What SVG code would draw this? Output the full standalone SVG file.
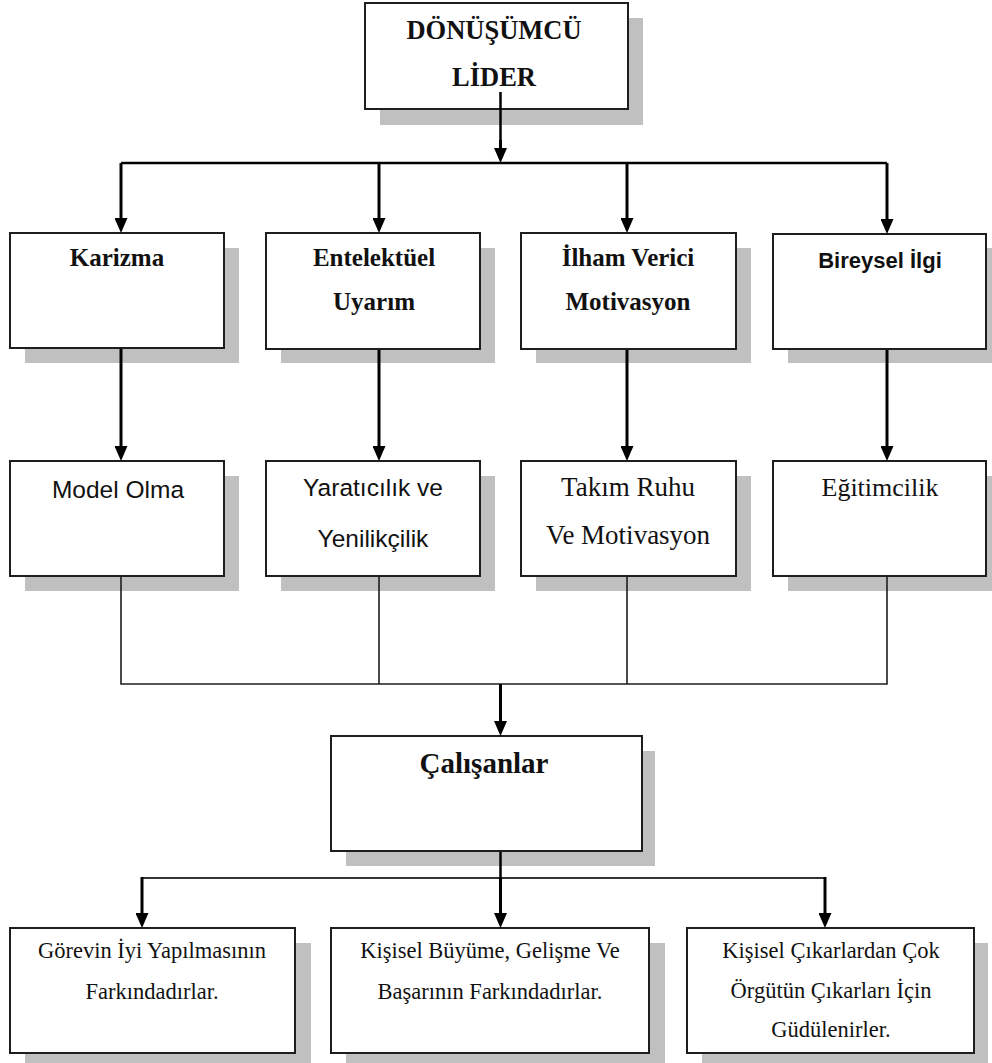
<svg xmlns="http://www.w3.org/2000/svg" width="992" height="1063" viewBox="0 0 992 1063">
  <style>
    .box { fill: #ffffff; stroke: #1e1e1e; stroke-width: 2; }
    .shadow { fill: #c0c0c0; stroke: none; }
    .serif { font-family: "Liberation Serif", "Times New Roman", serif; fill: #111; text-anchor: middle; }
    .sans { font-family: "Liberation Sans", Arial, sans-serif; fill: #111; text-anchor: middle; }
    .b { font-weight: bold; }
    .arrow { stroke: #000; stroke-width: 3; fill: none; marker-end: url(#ah); }
    .thick { stroke: #000; stroke-width: 2.5; fill: none; }
    .thin { stroke: #1e1e1e; stroke-width: 1.6; fill: none; }
  </style>
  <defs>
    <marker id="ah" viewBox="0 0 15 13" refX="7" refY="6.5" markerWidth="15" markerHeight="13" markerUnits="userSpaceOnUse" orient="auto">
      <path d="M0,0 L15,6.5 L0,13 z" fill="#000"/>
    </marker>
  </defs>
  <rect width="992" height="1063" fill="#ffffff"/>

  <g id="node-lider">
    <rect class="shadow" x="380" y="18" width="263" height="107"/>
    <rect class="box" x="365" y="3" width="263" height="106"/>
    <text class="serif b" x="494" y="39" font-size="26.5">DÖNÜŞÜMCÜ</text>
    <text class="serif b" x="494" y="86" font-size="26.5">LİDER</text>
  </g>

  <g id="node-karizma">
    <rect class="shadow" x="25" y="248" width="214" height="115"/>
    <rect class="box" x="10" y="233" width="214" height="115"/>
    <text class="serif b" x="117" y="266" font-size="25">Karizma</text>
  </g>
  <g id="node-entelektuel">
    <rect class="shadow" x="281" y="248" width="214" height="115"/>
    <rect class="box" x="266" y="233" width="214" height="116"/>
    <text class="serif b" x="374" y="266" font-size="25">Entelektüel</text>
    <text class="serif b" x="374" y="310" font-size="25">Uyarım</text>
  </g>
  <g id="node-ilham">
    <rect class="shadow" x="536" y="248" width="215" height="115"/>
    <rect class="box" x="521" y="233" width="215" height="116"/>
    <text class="serif b" x="628" y="266" font-size="25">İlham Verici</text>
    <text class="serif b" x="628" y="310" font-size="25">Motivasyon</text>
  </g>
  <g id="node-bireysel">
    <rect class="shadow" x="788" y="248" width="204" height="115"/>
    <rect class="box" x="773" y="234" width="213" height="115"/>
    <text class="sans b" x="880" y="268" font-size="22">Bireysel İlgi</text>
  </g>

  <g id="node-model">
    <rect class="shadow" x="25" y="476" width="214" height="115"/>
    <rect class="box" x="10" y="461" width="214" height="115"/>
    <text class="sans" x="118" y="498" font-size="24.5">Model Olma</text>
  </g>
  <g id="node-yaraticilik">
    <rect class="shadow" x="281" y="476" width="214" height="115"/>
    <rect class="box" x="266" y="461" width="214" height="115"/>
    <text class="sans" x="373" y="496" font-size="24.5">Yaratıcılık ve</text>
    <text class="sans" x="373" y="547" font-size="24.5">Yenilikçilik</text>
  </g>
  <g id="node-takim">
    <rect class="shadow" x="536" y="476" width="215" height="115"/>
    <rect class="box" x="521" y="461" width="215" height="115"/>
    <text class="serif" x="628" y="496" font-size="27">Takım Ruhu</text>
    <text class="serif" x="628" y="544" font-size="27">Ve Motivasyon</text>
  </g>
  <g id="node-egitimcilik">
    <rect class="shadow" x="788" y="476" width="204" height="115"/>
    <rect class="box" x="773" y="461" width="213" height="115"/>
    <text class="serif" x="880" y="496" font-size="26">Eğitimcilik</text>
  </g>

  <g id="node-calisanlar">
    <rect class="shadow" x="346" y="751" width="309" height="115"/>
    <rect class="box" x="331" y="736" width="311" height="115"/>
    <text class="serif b" x="484" y="773" font-size="29">Çalışanlar</text>
  </g>

  <g id="node-gorev">
    <rect class="shadow" x="25" y="943" width="286" height="125"/>
    <rect class="box" x="10" y="928" width="285" height="125"/>
    <text class="serif" x="152" y="958" font-size="22.5">Görevin İyi Yapılmasının</text>
    <text class="serif" x="152" y="999" font-size="22.5">Farkındadırlar.</text>
  </g>
  <g id="node-kisisel">
    <rect class="shadow" x="346" y="943" width="319" height="125"/>
    <rect class="box" x="331" y="928" width="318" height="125"/>
    <text class="serif" x="490" y="958" font-size="22.5">Kişisel Büyüme, Gelişme Ve</text>
    <text class="serif" x="490" y="999" font-size="22.5">Başarının Farkındadırlar.</text>
  </g>
  <g id="node-cikar">
    <rect class="shadow" x="702" y="943" width="286" height="125"/>
    <rect class="box" x="687" y="928" width="287" height="125"/>
    <text class="serif" x="831" y="958" font-size="22.5">Kişisel Çıkarlardan Çok</text>
    <text class="serif" x="831" y="998" font-size="22.5">Örgütün Çıkarları İçin</text>
    <text class="serif" x="831" y="1037" font-size="22.5">Güdülenirler.</text>
  </g>

  <g id="connectors">
    <line class="thick" x1="500.5" y1="92" x2="500.5" y2="150"/>
    <line class="arrow" x1="500.5" y1="140" x2="500.5" y2="155"/>
    <line class="thick" x1="121" y1="163" x2="887" y2="163"/>
    <line class="arrow" x1="121" y1="163" x2="121" y2="225"/>
    <line class="arrow" x1="379" y1="163" x2="379" y2="225"/>
    <line class="arrow" x1="627" y1="163" x2="627" y2="225"/>
    <line class="arrow" x1="887" y1="163" x2="887" y2="226"/>
    <line class="arrow" x1="121" y1="349" x2="121" y2="453"/>
    <line class="arrow" x1="379" y1="350" x2="379" y2="453"/>
    <line class="arrow" x1="627" y1="350" x2="627" y2="453"/>
    <line class="arrow" x1="887" y1="350" x2="887" y2="453"/>
    <polyline class="thin" points="121,577 121,684 887,684 887,577"/>
    <line class="thin" x1="379" y1="577" x2="379" y2="684"/>
    <line class="thin" x1="627" y1="577" x2="627" y2="684"/>
    <line class="arrow" x1="500.5" y1="684" x2="500.5" y2="728"/>
    <line class="thick" x1="500.5" y1="852" x2="500.5" y2="878"/>
    <line x1="142" y1="878" x2="825" y2="878" style="stroke:#333;stroke-width:2"/>
    <line class="arrow" x1="142" y1="877" x2="142" y2="920"/>
    <line class="arrow" x1="500.5" y1="877" x2="500.5" y2="920"/>
    <line class="arrow" x1="825" y1="877" x2="825" y2="920"/>
  </g>
</svg>
